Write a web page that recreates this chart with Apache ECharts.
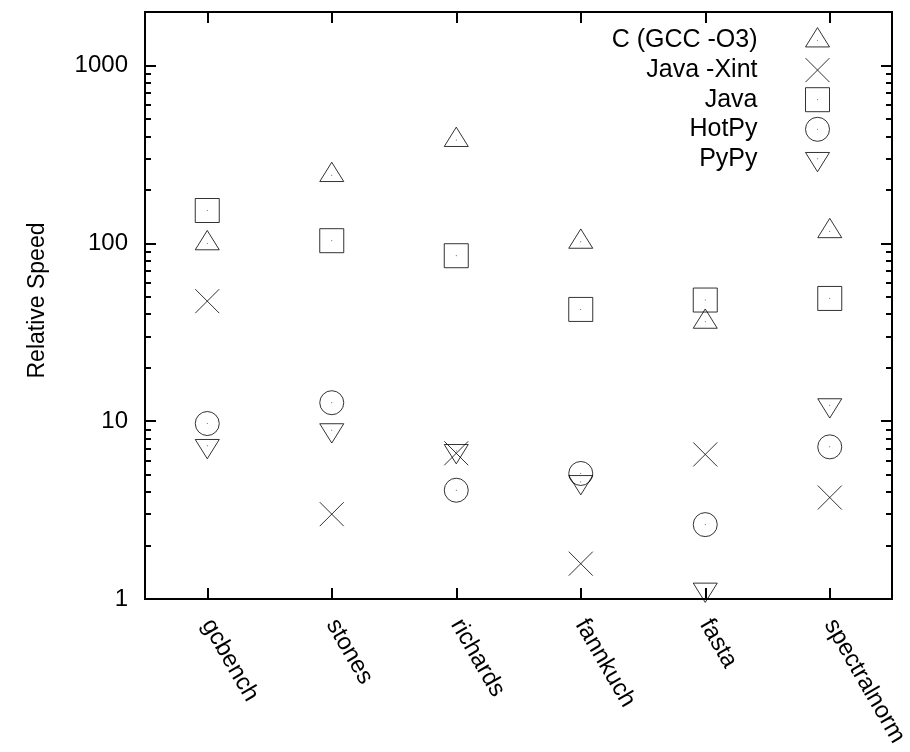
<!DOCTYPE html>
<html>
<head>
<meta charset="utf-8">
<script src="https://cdn.jsdelivr.net/npm/echarts@6/dist/echarts.min.js"></script>
<style>
html,body{margin:0;padding:0;background:#fff;}
#chart{width:910px;height:752px;}
</style>
</head>
<body>
<div id="chart"></div>
<script>
// ---- data ----
const categories = ['gcbench', 'stones', 'richards', 'fannkuch', 'fasta', 'spectralnorm'];
const seriesNames = ['C (GCC -O3)', 'Java -Xint', 'Java', 'HotPy', 'PyPy'];
const cGcc     = [100, 242, 381, 102, 36.2, 117];
const javaXint = [47.3, 3.0, 6.6, 1.58, 6.5, 3.72];
const java     = [153, 103.5, 85.2, 42.5, 48, 49];
const hotpy    = [9.7, 12.7, 4.09, 5.08, 2.62, 7.17];
const pypy     = [7.26, 8.9, 6.8, 4.55, 1.13, 12.3];
const yMajorTicks = [1, 10, 100, 1000];
const yMinorTicks = [2, 3, 4, 5, 6, 7, 8, 9, 20, 30, 40, 50, 60, 70, 80, 90, 200, 300, 400, 500, 600, 700, 800, 900];
const yName = 'Relative Speed';

// ---- styling ----
const FONT = "'Liberation Sans', Arial, Helvetica, sans-serif";
const DOT = ' M11.9 11.9 L12.1 11.9 L12.1 12.1 L11.9 12.1 Z';
const BOX = 'M-1 -1 M25 25 ';
const symbolList = [
  'path://' + BOX + 'M12 -0.87 L24 18.43 L0 18.43 Z' + DOT,
  'path://' + BOX + 'M0 0 L24 24 M24 0 L0 24',
  'path://' + BOX + 'M0 0 L24 0 L24 24 L0 24 Z' + DOT,
  'path://' + BOX + 'M0 12 A12 12 0 1 1 24 12 A12 12 0 1 1 0 12 Z' + DOT,
  'path://' + BOX + 'M0 5.57 L24 5.57 L12 24.87 Z' + DOT
];
const seriesValues = [cGcc, javaXint, java, hotpy, pypy];

const lineStyle = { color: '#000', width: 2 };

function xAx(pos, showLabel) {
  return {
    type: 'category', data: categories, position: pos, boundaryGap: true,
    axisLine: { show: true, onZero: false, lineStyle: lineStyle },
    axisTick: { show: true, inside: true, alignWithLabel: true, length: 11, lineStyle: lineStyle },
    axisLabel: showLabel ? { show: true, interval: 0, rotate: -60, fontSize: 24, color: '#000', margin: 22, fontFamily: FONT } : { show: false },
    splitLine: { show: false }
  };
}
function yAx(pos, ticks, len, showLabel) {
  const a = {
    type: 'log', logBase: 10, min: 1, max: 2000, position: pos,
    axisLine: { show: true, onZero: false, lineStyle: lineStyle },
    axisTick: { show: true, inside: true, length: len, customValues: ticks, lineStyle: lineStyle },
    axisLabel: { show: false },
    splitLine: { show: false },
    minorTick: { show: false },
    minorSplitLine: { show: false }
  };
  if (showLabel) {
    a.axisLabel = {
      show: true, customValues: yMajorTicks, fontSize: 24, color: '#000', margin: 17, fontFamily: FONT,
      formatter: function (v) { return String(Math.round(v)); }
    };
    a.name = yName;
    a.nameLocation = 'middle';
    a.nameGap = 96;
    a.nameTextStyle = { fontSize: 23, color: '#000', fontFamily: FONT, padding: [0, 0, 0, 10] };
  }
  return a;
}

const chart = echarts.init(document.getElementById('chart'), null, { renderer: 'canvas' });
chart.setOption({
  animation: false,
  backgroundColor: '#fff',
  textStyle: { fontFamily: FONT },
  grid: { left: 145, right: 18, top: 12, bottom: 153, containLabel: false, outerBoundsMode: 'none' },
  legend: {
    orient: 'vertical', right: 79, top: 27, padding: 0, align: 'right',
    itemWidth: 110, itemHeight: 26, itemGap: 2.6,
    selectedMode: false,
    textStyle: { fontSize: 25, color: '#000', fontFamily: FONT },
    itemStyle: { borderWidth: 1, borderColor: '#000', color: 'rgba(0,0,0,0)' },
    data: seriesNames
  },
  xAxis: [xAx('bottom', true), xAx('top', false)],
  yAxis: [
    yAx('left', yMajorTicks, 11, true),
    yAx('left', yMinorTicks, 6, false),
    yAx('right', yMajorTicks, 11, false),
    yAx('right', yMinorTicks, 6, false)
  ],
  series: seriesNames.map(function (name, i) {
    return {
      name: name, type: 'scatter', xAxisIndex: 0, yAxisIndex: 0,
      symbol: symbolList[i], symbolSize: 26, symbolKeepAspect: true,
      itemStyle: { color: 'rgba(0,0,0,0)', borderColor: '#000', borderWidth: 1 },
      emphasis: { disabled: true },
      data: seriesValues[i]
    };
  })
});
</script>
</body>
</html>
